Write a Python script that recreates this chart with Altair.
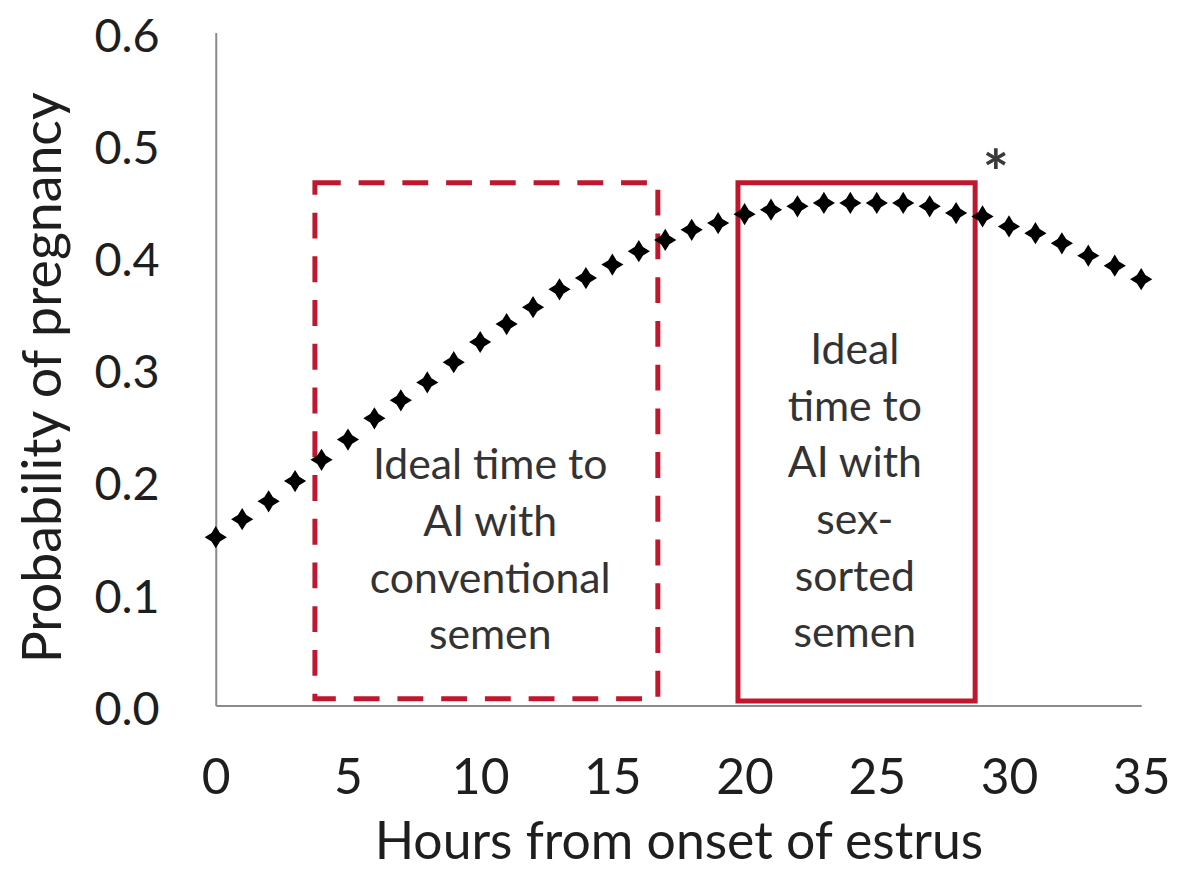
import altair as alt
import pandas as pd

hours = list(range(36))
prob = [0.150, 0.166, 0.182, 0.200, 0.219, 0.237, 0.256, 0.272, 0.288, 0.306,
        0.324, 0.340, 0.355, 0.371, 0.381, 0.393, 0.405, 0.415, 0.424, 0.430,
        0.438, 0.442, 0.445, 0.448, 0.448, 0.448, 0.448, 0.445, 0.439, 0.436,
        0.427, 0.421, 0.412, 0.401, 0.392, 0.380]

box_names = ["conventional", "sexsorted"]
box_x0 = [3.75, 19.75]
box_x1 = [16.72, 28.72]
box_y0 = [0.006, 0.004]
box_y1 = [0.466, 0.466]

label_text = ["Ideal time to\nAI with\nconventional\nsemen",
              "Ideal\ntime to\nAI with\nsex-\nsorted\nsemen"]
label_x = [10.38, 24.17]
label_y = [0.213, 0.316]

star_x = [29.5]
star_y = [0.455]

x_ticks = [0, 5, 10, 15, 20, 25, 30, 35]
y_ticks = [0.0, 0.1, 0.2, 0.3, 0.4, 0.5, 0.6]

FONT = "Lato"
RED = "#C0172F"

pts = pd.DataFrame({"h": hours, "p": prob})
boxes = pd.DataFrame({"name": box_names, "x0": box_x0, "x1": box_x1,
                      "y0": box_y0, "y1": box_y1})
labels = pd.DataFrame({"t": label_text, "x": label_x, "y": label_y})
star = pd.DataFrame({"x": star_x, "y": star_y, "t": ["*"]})

xscale = alt.Scale(domain=[0, 35], nice=False, zero=False)
yscale = alt.Scale(domain=[0, 0.6], nice=False)

xaxis = alt.Axis(values=x_ticks, title="Hours from onset of estrus",
                 grid=False, ticks=False, tickSize=0, labelPadding=74,
                 labelBaseline="middle", labelFontSize=50, labelFont=FONT,
                 labelColor="#1e1e1e", titleFontSize=52, titleFont=FONT,
                 titleFontWeight="normal", titleColor="#1e1e1e",
                 titleX=465.5, titleY=138, titleBaseline="middle",
                 titleAlign="center", domainColor="#8a8a8a", domainWidth=2,
                 labelFlush=False, labelOverlap=False)
yaxis = alt.Axis(values=y_ticks, format=".1f", title="Probability of pregnancy",
                 grid=False, ticks=False, tickSize=0, labelPadding=57,
                 labelFontSize=47, labelFont=FONT, labelColor="#1e1e1e",
                 labelOffset=5,
                 titleFontSize=54, titleFont=FONT, titleFontWeight="normal",
                 titleColor="#1e1e1e", titleX=-172, titleY=347,
                 titleBaseline="middle", titleAlign="center", titleAngle=270,
                 domainColor="#8a8a8a", domainWidth=2,
                 labelFlush=False, labelOverlap=False)

base_x = alt.X("h:Q", scale=xscale, axis=xaxis)
base_y = alt.Y("p:Q", scale=yscale, axis=yaxis)

dashed = alt.Chart(boxes[boxes.name == "conventional"]).mark_rect(
    fillOpacity=0, stroke=RED, strokeWidth=5, strokeDash=[26, 18]
).encode(x=alt.X("x0:Q", scale=xscale, axis=xaxis), x2="x1:Q",
         y=alt.Y("y0:Q", scale=yscale, axis=yaxis), y2="y1:Q")

solid = alt.Chart(boxes[boxes.name == "sexsorted"]).mark_rect(
    fillOpacity=0, stroke=RED, strokeWidth=5
).encode(x=alt.X("x0:Q", scale=xscale), x2="x1:Q",
         y=alt.Y("y0:Q", scale=yscale), y2="y1:Q")

diamond = "M0,-1L0.38,-0.38L1,0L0.38,0.38L0,1L-0.38,0.38L-1,0L-0.38,-0.38Z"
points = alt.Chart(pts).mark_point(
    shape=diamond, filled=True, color="#000000", size=500, opacity=1
).encode(x=base_x, y=base_y)

text = alt.Chart(labels).mark_text(
    font=FONT, fontSize=43, color="#333333", lineBreak="\n", lineHeight=57,
    align="center", baseline="middle"
).encode(x=alt.X("x:Q", scale=xscale), y=alt.Y("y:Q", scale=yscale), text="t:N")

star_mark = alt.Chart(star).mark_text(
    font=FONT, fontSize=62, fontWeight="bold", color="#3a3a3a", align="center",
    baseline="alphabetic"
).encode(x=alt.X("x:Q", scale=xscale), y=alt.Y("y:Q", scale=yscale), text="t:N")

chart = alt.layer(dashed, solid, points, text, star_mark).properties(
    width=931, height=677,
    autosize=alt.AutoSizeParams(type="none"),
    padding={"left": 209, "top": 22, "right": 32, "bottom": 164},
    background="white"
).configure_view(stroke=None)

chart.save("out.html", embed_options={"renderer": "svg", "actions": False})
